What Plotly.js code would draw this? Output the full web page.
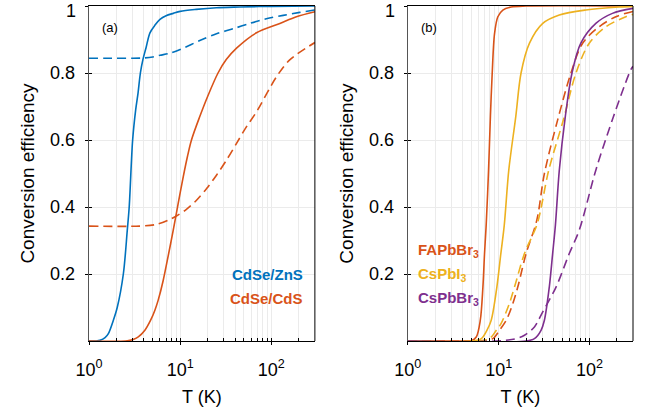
<!DOCTYPE html>
<html>
<head>
<meta charset="utf-8">
<script src="https://cdn.plot.ly/plotly-3.0.1.min.js"></script>
<style>
html,body{margin:0;padding:0;background:#fff;}
#chart{width:654px;height:417px;}
</style>
</head>
<body>
<div id="chart"></div>
<script>
// ---------- Panel (a) ----------
const T_ZnS = [1, 1.2, 1.32, 1.5, 1.63, 1.85, 2.04, 2.38, 2.63, 2.76, 3.01, 3.25, 3.45, 3.66, 3.9, 4.21, 4.66, 5.3, 6.0, 7, 8.4, 10, 15, 25, 45, 100, 300];
const eff_ZnS = [0, 0, 0.002, 0.01, 0.022, 0.062, 0.10, 0.2, 0.331, 0.40, 0.60, 0.69, 0.74, 0.80, 0.84, 0.874, 0.92, 0.943, 0.96, 0.971, 0.978, 0.984, 0.99, 0.995, 0.997, 0.999, 1.0];

const T_ZnS_dash = [1, 2, 3, 4, 5, 6, 7.7, 10, 16.4, 25, 38, 58, 88, 135, 205, 300];
const eff_ZnS_dash = [0.844, 0.844, 0.844, 0.845, 0.848, 0.853, 0.859, 0.870, 0.897, 0.917, 0.932, 0.948, 0.962, 0.972, 0.981, 0.988];

const T_CdS = [1, 2.5, 2.81, 3.1, 3.47, 4.1, 4.74, 5.28, 5.74, 6.5, 7.4, 8.38, 9.5, 10.8, 12, 13.3, 16.4, 20, 26, 32, 41.5, 68.7, 124, 188, 300];
const eff_CdS = [0, 0, 0.002, 0.005, 0.012, 0.032, 0.062, 0.092, 0.122, 0.18, 0.255, 0.33, 0.41, 0.49, 0.55, 0.60, 0.67, 0.73, 0.80, 0.84, 0.874, 0.92, 0.948, 0.968, 0.983];

const T_CdS_dash = [1, 3.6, 5.5, 7.7, 9.1, 11.7, 15.1, 19.5, 25, 32.2, 41.5, 53.4, 68.7, 114, 159, 300];
const eff_CdS_dash = [0.343, 0.343, 0.348, 0.363, 0.373, 0.393, 0.42, 0.455, 0.495, 0.54, 0.59, 0.64, 0.684, 0.789, 0.839, 0.891];

// ---------- Panel (b) ----------
const T_FA = [1, 4.5, 5.0, 5.66, 6.27, 6.7, 6.98, 7.29, 7.73, 8.1, 8.48, 9.0, 9.78, 11.1, 13.7, 20, 300];
const eff_FA = [0, 0, 0.001, 0.012, 0.062, 0.161, 0.261, 0.35, 0.51, 0.67, 0.80, 0.918, 0.968, 0.988, 0.997, 1, 1];

const T_CsI = [1, 5.2, 6.43, 7.41, 8.27, 9.54, 10.55, 11.5, 12.9, 15.4, 17.6, 21.8, 30.5, 46.4, 91, 211, 300];
const eff_CsI = [0, 0, 0.007, 0.032, 0.062, 0.161, 0.261, 0.345, 0.51, 0.67, 0.80, 0.889, 0.948, 0.973, 0.988, 0.997, 0.999];

const T_CsBr = [1, 20, 24.7, 29.2, 31.8, 36, 39.2, 42, 46.4, 54, 64, 80, 117, 178, 300];
const eff_CsBr = [0, 0, 0.007, 0.032, 0.062, 0.161, 0.261, 0.345, 0.51, 0.67, 0.80, 0.889, 0.948, 0.978, 0.993];

const T_FA_dash = [1, 6.2, 8.6, 10.2, 12.1, 14.3, 16.2, 20, 26.2, 31.8, 44.5, 62.3, 83.7, 127, 194, 300];
const eff_FA_dash = [0, 0, 0.007, 0.032, 0.062, 0.112, 0.161, 0.261, 0.36, 0.50, 0.66, 0.80, 0.889, 0.938, 0.968, 0.984];

const T_CsI_dash = [1, 5.66, 7.9, 9.4, 10.6, 13.1, 14.9, 19.2, 26.5, 35.5, 51.4, 70.8, 99, 151, 250, 300];
const eff_CsI_dash = [0, 0, 0.007, 0.032, 0.052, 0.112, 0.161, 0.261, 0.35, 0.51, 0.66, 0.80, 0.889, 0.938, 0.968, 0.975];

const T_CsBr_dash = [1, 9.4, 15.5, 19.2, 24.7, 30.5, 42.7, 59.7, 76.9, 117, 183, 284, 300];
const eff_CsBr_dash = [0, 0, 0.007, 0.017, 0.042, 0.087, 0.161, 0.261, 0.331, 0.51, 0.67, 0.81, 0.82];

// ---------- Ticks ----------
const xTickVals = [1,2,3,4,5,6,7,8,9,10,20,30,40,50,60,70,80,90,100,200,300];
const xTickText = ['10<sup>0</sup>','','','','','','','','','10<sup>1</sup>','','','','','','','','','10<sup>2</sup>','',''];
const xMajorVals = [1,10,100];
const yTickVals = [0.2,0.4,0.6,0.8,1];
const yTickText = ['0.2','0.4','0.6','0.8',''];
const yTopLabel = '1';

const C_BLUE = '#0072BD', C_ORANGE = '#D95319', C_YELLOW = '#EDB120', C_PURPLE = '#7E2F8E';
const FONT = '"Liberation Sans", Arial, Helvetica, sans-serif';
const DASH = '9px,5px';

function tr(x, y, color, dash, xa, ya) {
  return {x: x, y: y, type: 'scatter', mode: 'lines', xaxis: xa, yaxis: ya,
    line: {color: color, width: 1.6, dash: dash ? DASH : 'solid', shape: 'spline', smoothing: 0.9},
    hoverinfo: 'skip', showlegend: false};
}

const data = [
  tr(T_ZnS_dash, eff_ZnS_dash, C_BLUE, true, 'x', 'y'),
  tr(T_CdS_dash, eff_CdS_dash, C_ORANGE, true, 'x', 'y'),
  tr(T_ZnS, eff_ZnS, C_BLUE, false, 'x', 'y'),
  tr(T_CdS, eff_CdS, C_ORANGE, false, 'x', 'y'),

  tr(T_FA_dash, eff_FA_dash, C_ORANGE, true, 'x2', 'y2'),
  tr(T_CsI_dash, eff_CsI_dash, C_YELLOW, true, 'x2', 'y2'),
  tr(T_CsBr_dash, eff_CsBr_dash, C_PURPLE, true, 'x2', 'y2'),
  tr(T_FA, eff_FA, C_ORANGE, false, 'x2', 'y2'),
  tr(T_CsI, eff_CsI, C_YELLOW, false, 'x2', 'y2'),
  tr(T_CsBr, eff_CsBr, C_PURPLE, false, 'x2', 'y2'),

  // empty traces to register overlay tick axes
  {x: [], y: [], type: 'scatter', xaxis: 'x3', yaxis: 'y', showlegend: false, hoverinfo: 'skip'},
  {x: [], y: [], type: 'scatter', xaxis: 'x', yaxis: 'y3', showlegend: false, hoverinfo: 'skip'},
  {x: [], y: [], type: 'scatter', xaxis: 'x4', yaxis: 'y2', showlegend: false, hoverinfo: 'skip'},
  {x: [], y: [], type: 'scatter', xaxis: 'x2', yaxis: 'y4', showlegend: false, hoverinfo: 'skip'}
];

const XR = [0, Math.log10(300)];
const tickFont = {family: FONT, size: 18, color: '#000'};
const titleFont = {family: FONT, size: 18, color: '#000'};

function xMain(domain, anchor) {
  return {domain: domain, anchor: anchor, type: 'log', range: XR,
    tickmode: 'array', tickvals: xTickVals, ticktext: xTickText,
    ticks: 'inside', ticklen: 3.5, tickwidth: 1, tickcolor: '#000',
    showgrid: true, gridcolor: '#ebebeb', gridwidth: 1,
    showline: true, linecolor: '#000', linewidth: 1, mirror: true,
    tickfont: tickFont, automargin: false, fixedrange: true,
    ticklabelstandoff: 12, ticklabeloverflow: 'allow',
    title: {text: 'T (K)', font: titleFont, standoff: 11}};
}
function xOver(over, anchor) {
  return {overlaying: over, anchor: anchor, type: 'log', range: XR,
    tickmode: 'array', tickvals: xMajorVals, ticks: 'outside', ticklen: 2.5,
    tickcolor: '#000', showticklabels: false, showgrid: false, showline: false,
    zeroline: false, automargin: false, fixedrange: true};
}
function yMain(domain, anchor) {
  return {domain: domain, anchor: anchor, range: [0, 1],
    tickmode: 'array', tickvals: yTickVals, ticktext: yTickText,
    ticks: 'outside', ticklen: 3, tickwidth: 1, tickcolor: '#000',
    showgrid: true, gridcolor: '#ebebeb', gridwidth: 1, zeroline: false,
    showline: true, linecolor: '#555', linewidth: 1.3, mirror: false,
    tickfont: tickFont, automargin: false, fixedrange: true,
    ticklabelstandoff: 6, ticklabeloverflow: 'allow',
    title: {text: 'Conversion efficiency', font: {family: FONT, size: 19, color: '#000'}, standoff: 10}};
}
function yOver(over, anchor) {
  return {overlaying: over, anchor: anchor, range: [0, 1],
    tickmode: 'array', tickvals: yTickVals, ticks: 'inside', ticklen: 3,
    tickcolor: '#000', showticklabels: false, showgrid: false, showline: false,
    zeroline: false, automargin: false, fixedrange: true};
}

const W = 654, H = 417;
const mL = 89, mR = 20.7;
const pw = W - mL - mR;
const domA = [0, (315 - mL) / pw];
const domB = [(408 - mL) / pw, 1];

const legFont = (c) => ({family: FONT, size: 15, color: c, weight: 'bold'});
const topLabel = (xr) => ({xref: xr, yref: 'paper', x: 0, y: 1, xanchor: 'right', yanchor: 'top',
  xshift: -12, yshift: 6, text: yTopLabel, showarrow: false, borderpad: 0, font: tickFont});

const layout = {
  width: W, height: H,
  margin: {l: mL, r: mR, t: 6, b: 76, pad: 0},
  paper_bgcolor: '#fff', plot_bgcolor: '#fff',
  showlegend: false,
  xaxis: xMain(domA, 'y'),
  yaxis: yMain([0, 1], 'x'),
  xaxis2: xMain(domB, 'y2'),
  yaxis2: yMain([0, 1], 'x2'),
  xaxis3: xOver('x', 'y'),
  yaxis3: yOver('y', 'x'),
  xaxis4: xOver('x2', 'y2'),
  yaxis4: yOver('y2', 'x2'),
  shapes: [
    {type: 'line', xref: 'x domain', yref: 'y domain', x0: 1, x1: 1, y0: 0, y1: 1, line: {color: '#000', width: 1}},
    {type: 'line', xref: 'x2 domain', yref: 'y2 domain', x0: 1, x1: 1, y0: 0, y1: 1, line: {color: '#000', width: 1}}
  ],
  annotations: [
    topLabel('x domain'),
    topLabel('x2 domain'),
    {xref: 'x domain', yref: 'y domain', x: 0.05, y: 0.935, xanchor: 'left', yanchor: 'middle', text: '(a)', showarrow: false, font: {family: FONT, size: 13, color: '#000'}},
    {xref: 'x2 domain', yref: 'y2 domain', x: 0.05, y: 0.935, xanchor: 'left', yanchor: 'middle', text: '(b)', showarrow: false, font: {family: FONT, size: 13, color: '#000'}},
    {xref: 'x domain', yref: 'y domain', x: 0.955, y: 0.2, xanchor: 'right', yanchor: 'middle', text: 'CdSe/ZnS', showarrow: false, font: legFont(C_BLUE)},
    {xref: 'x domain', yref: 'y domain', x: 0.955, y: 0.128, xanchor: 'right', yanchor: 'middle', text: 'CdSe/CdS', showarrow: false, font: legFont(C_ORANGE)},
    {xref: 'x2 domain', yref: 'y2 domain', x: 0.035, y: 0.27, xanchor: 'left', yanchor: 'middle', text: 'FAPbBr<sub>3</sub>', showarrow: false, font: legFont(C_ORANGE)},
    {xref: 'x2 domain', yref: 'y2 domain', x: 0.035, y: 0.198, xanchor: 'left', yanchor: 'middle', text: 'CsPbI<sub>3</sub>', showarrow: false, font: legFont(C_YELLOW)},
    {xref: 'x2 domain', yref: 'y2 domain', x: 0.035, y: 0.126, xanchor: 'left', yanchor: 'middle', text: 'CsPbBr<sub>3</sub>', showarrow: false, font: legFont(C_PURPLE)}
  ]
};

Plotly.newPlot('chart', data, layout, {staticPlot: true, displayModeBar: false});
</script>
</body>
</html>
